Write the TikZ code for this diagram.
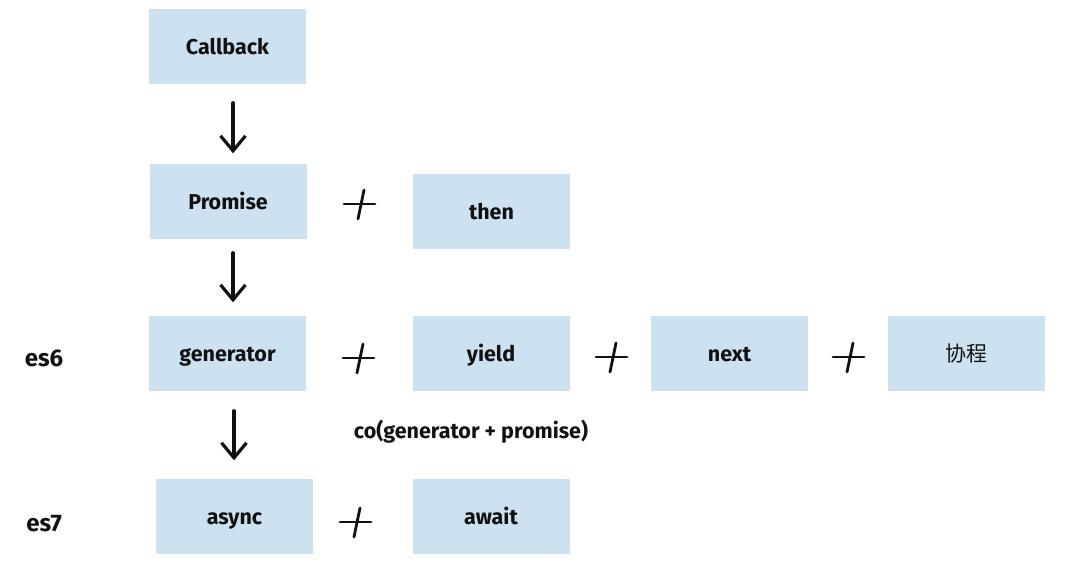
\documentclass[tikz,border=0pt]{standalone}
\usepackage{fontspec}
\setmainfont{Fira Sans}
\newfontfamily\cjk{Noto Sans CJK SC}
\usetikzlibrary{arrows.meta}
\definecolor{boxblue}{RGB}{205,226,241}
\definecolor{ink}{RGB}{17,17,17}
\tikzset{
  box/.style={fill=boxblue, draw=none, minimum width=157pt, minimum height=75pt, inner sep=0pt,
              text height=16pt, text depth=0pt,
              font=\fontsize{21.5}{24}\selectfont\bfseries, text=ink},
  lbl/.style={font=\fontsize{24}{28}\selectfont\bfseries, text=ink, inner sep=0pt,
              text height=18pt, text depth=0pt},
  note/.style={font=\fontsize{21.5}{24}\selectfont\bfseries, text=ink, inner sep=0pt},
  arr/.style={line width=3.2pt, ink, line cap=round, -{Straight Barb[length=15pt,width=25pt,line width=3.2pt]}},
  pl/.style={line width=2.8pt, ink, line cap=round},
  plussign/.pic={\draw[pl] (-16,0) -- (15,0); \draw[pl] (4,-14) -- (-2,15);}
}
\begin{document}
\begin{tikzpicture}[x=1pt,y=-1pt]
\useasboundingbox (0,0) rectangle (1075,567);
\node[box] (cb) at (227.5,47) {Callback};
\node[box] (pr) at (228,201) {Promise};
\node[box] (th) at (491.5,211) {then};
\node[box] (gen) at (227.5,353) {generator};
\node[box] (yd) at (491,353) {yield};
\node[box] (nx) at (729.5,353) {next};
\node[box, font=\fontsize{21}{24}\selectfont\cjk] (xc) at (966.5,353) {协程};
\node[box] (as) at (234.5,516) {async};
\node[box] (aw) at (491,516) {await};
\node[lbl] (es6) at (44,357) {es6};
\node[lbl] (es7) at (44,522) {es7};
\node[note] (co) at (471,432) {co(generator + promise)};
\pic at (360,204) {plussign};
\pic at (359,358) {plussign};
\pic at (612,357) {plussign};
\pic at (849,357) {plussign};
\pic at (356,522) {plussign};
\draw[arr] ([xshift=5.5pt,yshift=-18pt]cb.south) -- ([xshift=5pt,yshift=10pt]pr.north);
\draw[arr] ([xshift=5pt,yshift=-14pt]pr.south) -- ([xshift=5.5pt,yshift=13pt]gen.north);
\draw[arr] ([xshift=6.5pt,yshift=-20pt]gen.south) -- ([xshift=-0.5pt,yshift=18pt]as.north);
\end{tikzpicture}
\end{document}
